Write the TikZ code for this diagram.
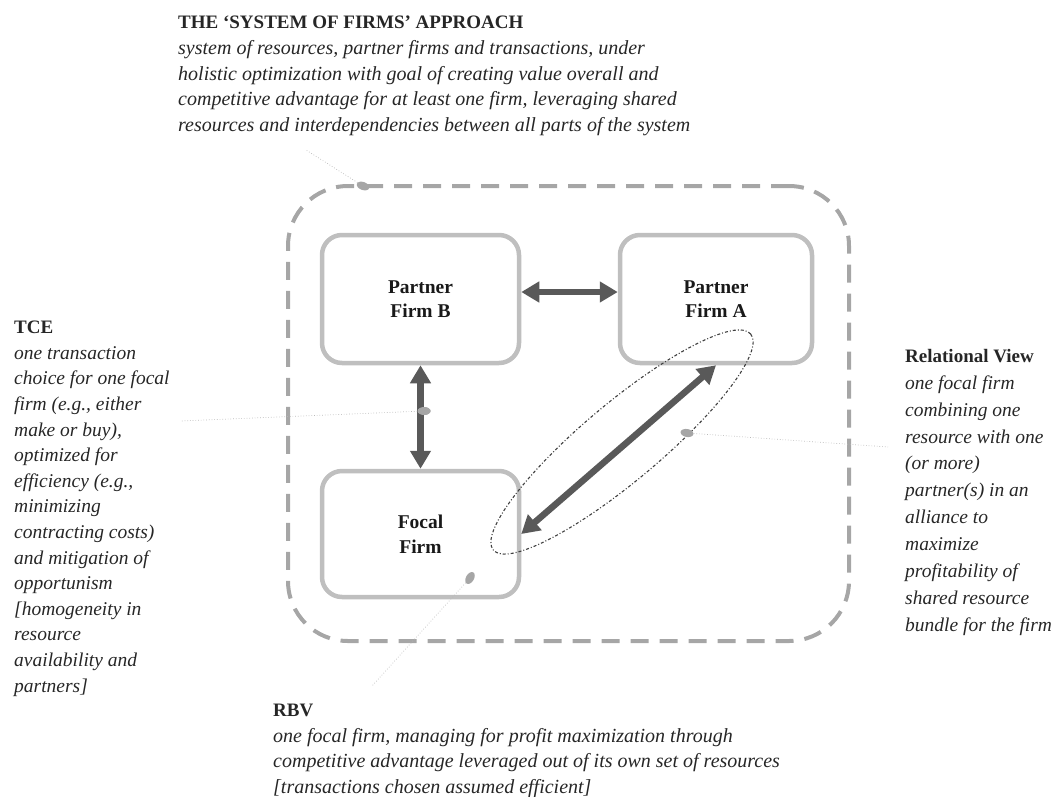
\documentclass[tikz,border=0pt]{standalone}
\usepackage{fontspec}
\setmainfont{Liberation Serif}
\usetikzlibrary{arrows.meta,shapes.geometric}
\tikzset{
  firm/.style={draw=gray!50, line width=4.5pt, rounded corners=20pt, minimum width=197pt, minimum height=128pt, align=center, inner sep=0pt, font=\fontsize{19.5}{24.5}\selectfont\bfseries, text=black!90},
  system/.style={draw=gray!70, line width=4pt, dash pattern=on 18pt off 11pt, rounded corners=60pt, minimum width=561pt, minimum height=455pt, inner sep=0pt},
  link/.style={draw=black!65, line width=6.5pt, {Triangle[length=18pt,width=20pt]}-{Triangle[length=18pt,width=20pt]}},
  ring/.style={ellipse, draw=black!75, line width=1.1pt, dash pattern=on 3pt off 2pt on 1pt off 2pt, inner sep=0pt},
  spot/.style={ellipse, fill=gray!70, inner sep=0pt, minimum width=13pt, minimum height=8pt},
  leader/.style={draw=gray!55, line width=0.7pt, dotted},
  note/.style={anchor=north west, inner sep=0pt, align=left, font=\fontsize{19.5}{25.6}\selectfont, text=black!85},
  widenote/.style={note, font=\fontsize{20}{25.6}\selectfont},
}
\newcommand{\hd}[1]{{\fontsize{19}{25.6}\selectfont\bfseries #1}}
\newcommand{\ital}[1]{\textit{#1}}
\begin{document}
\begin{tikzpicture}[x=1pt,y=-1pt]
\useasboundingbox (0,0) rectangle (1052,796);
% system boundary
\node (sys) [system] at (568.5,413.5) {};
% firms
\node (B) [firm] at (420.5,299) {Partner\\Firm B};
\node (A) [firm, minimum width=192pt] at (716,299) {Partner\\Firm A};
\node (F) [firm, minimum height=126pt] at (420.5,534) {Focal\\Firm};
% relational ring
\node (ring) [ring, minimum width=336pt, minimum height=78pt, rotate=40] at (622,442) {};
% leader end points
\coordinate (topEnd) at (306,150);
\coordinate (tceEnd) at (180,421);
\coordinate (rvEnd) at (888,447);
\coordinate (rbvEnd) at (372,686);
% spots
\node (topSpot) [spot, rotate=-20] at (363,186) {};
\node (tceSpot) [spot] at (424,411) {};
\node (rvSpot) [spot, rotate=-10] at (687,433) {};
\node (rbvSpot) [spot, rotate=60] at (470,578) {};
% leaders
\draw[leader] (topSpot) -- (topEnd);
\draw[leader] (tceSpot) -- (tceEnd);
\draw[leader] (rvSpot) -- (rvEnd);
\draw[leader] (rbvSpot) -- (rbvEnd);
% links
\draw[link] ([yshift=7pt]B.east) -- ([yshift=7pt]A.west);
\draw[link] (B.south) -- (F.north);
\draw[link] (F.east) -- (A.south);
% spot on top of the vertical link
\node [spot] at (tceSpot) {};
% notes
\node (sysNote) [widenote] at (178,16) {\hd{THE ‘SYSTEM OF FIRMS’ APPROACH}\\
\ital{system of resources, partner firms and transactions, under}\\
\ital{holistic optimization with goal of creating value overall and}\\
\ital{competitive advantage for at least one firm, leveraging shared}\\
\ital{resources and interdependencies between all parts of the system}};
\node (tceNote) [note] at (14,321) {\hd{TCE}\\
\ital{one transaction}\\
\ital{choice for one focal}\\
\ital{firm (e.g., either}\\
\ital{make or buy),}\\
\ital{optimized for}\\
\ital{efficiency (e.g.,}\\
\ital{minimizing}\\
\ital{contracting costs)}\\
\ital{and mitigation of}\\
\ital{opportunism}\\
\ital{[homogeneity in}\\
\ital{resource}\\
\ital{availability and}\\
\ital{partners]}};
\node (rvNote) [note, font=\fontsize{19.5}{26.9}\selectfont] at (905,349) {{\fontsize{19}{26.9}\selectfont\bfseries Relational View}\\
\ital{one focal firm}\\
\ital{combining one}\\
\ital{resource with one}\\
\ital{(or more)}\\
\ital{partner(s) in an}\\
\ital{alliance to}\\
\ital{maximize}\\
\ital{profitability of}\\
\ital{shared resource}\\
\ital{bundle for the firm}};
\node (rbvNote) [widenote] at (273,704) {\hd{RBV}\\
\ital{one focal firm, managing for profit maximization through}\\
\ital{competitive advantage leveraged out of its own set of resources}\\
\ital{[transactions chosen assumed efficient]}};
\end{tikzpicture}
\end{document}
